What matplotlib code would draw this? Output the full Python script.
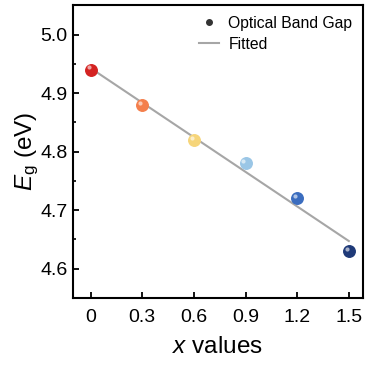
import numpy as np
import matplotlib
matplotlib.use("Agg")
import matplotlib.pyplot as plt
from matplotlib.lines import Line2D

plt.rcParams['font.family'] = ['Liberation Sans', 'DejaVu Sans']
plt.rcParams['mathtext.fontset'] = 'custom'
plt.rcParams['mathtext.rm'] = 'Liberation Sans'
plt.rcParams['mathtext.it'] = 'Liberation Sans:italic'

x_vals = [0, 0.3, 0.6, 0.9, 1.2, 1.5]
eg_vals = [4.94, 4.88, 4.82, 4.78, 4.72, 4.63]
colors = ['#d42322', '#f47f4c', '#f6d57a', '#9ac6e6', '#3b6dbf', '#1f3a78']
x_ticks = [0, 0.3, 0.6, 0.9, 1.2, 1.5]
x_ticklabels = ['0', '0.3', '0.6', '0.9', '1.2', '1.5']
y_ticks = [4.6, 4.7, 4.8, 4.9, 5.0]

fig = plt.figure(figsize=(3.67, 3.65), dpi=100)
ax = fig.add_axes([0.2, 0.184, 0.788, 0.801])

# fitted line
k, b = np.polyfit(x_vals, eg_vals, 1)
xf = np.array([x_vals[0], x_vals[-1]])
ax.plot(xf, k * xf + b, color='#a6a6a6', lw=1.5, zorder=2)

# spheres: base circle + small highlight
for xv, yv, c in zip(x_vals, eg_vals, colors):
    ax.plot(xv, yv, 'o', ms=8.3, color=c, mec=c, zorder=3)
    ax.plot(xv - 0.012, yv + 0.004, 'o', ms=3, color='white', alpha=0.6, mew=0, zorder=4)

ax.set_xlim(-0.1, 1.58)
ax.set_ylim(4.55, 5.05)
ax.set_xticks(x_ticks)
ax.set_xticklabels(x_ticklabels)
ax.set_yticks(y_ticks)
ax.set_yticks(np.arange(4.55, 5.05, 0.1), minor=True)
ax.tick_params(axis='both', which='major', labelsize=14, width=1.3, length=4, direction='in')
ax.tick_params(axis='x', which='major', pad=8)
ax.tick_params(axis='y', which='major', pad=4)
ax.tick_params(axis='y', which='minor', width=1.2, length=2.5, direction='in')
for s in ax.spines.values():
    s.set_linewidth(1.5)

ax.set_xlabel('$x$ values', fontsize=17.5, labelpad=7)
ax.set_ylabel('$E_\\mathrm{g}$ (eV)', fontsize=17.5, labelpad=0)

handles = [
    Line2D([], [], marker='o', ls='none', color='#333333', ms=4),
    Line2D([], [], color='#a6a6a6', lw=1.5),
]
ax.legend(handles, ['Optical Band Gap', 'Fitted'], loc='upper right', frameon=False,
          fontsize=11.3, handlelength=1.3, handletextpad=0.6, borderaxespad=0.25, labelspacing=0.4)

fig.savefig('out.png', dpi=100)
